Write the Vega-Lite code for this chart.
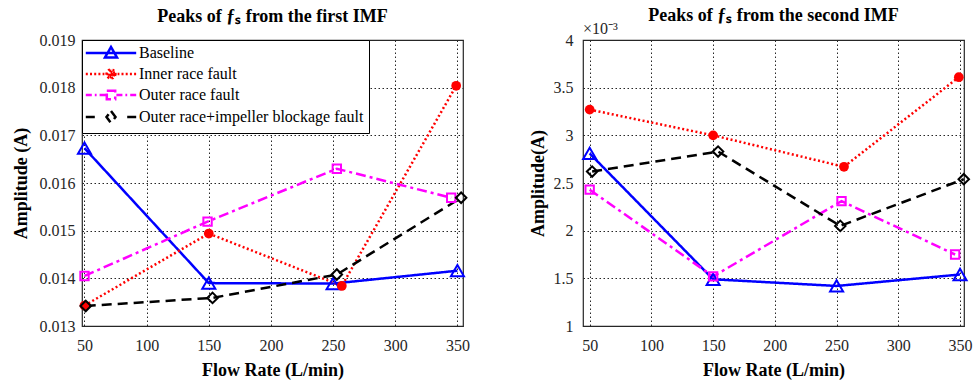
{
  "$schema": "https://vega.github.io/schema/vega-lite/v6.json",
  "padding": {"left": 11, "top": 6, "right": 1, "bottom": 0},
  "background": "white",
  "datasets": {
    "amps": [
      {"imf": 1, "series": "Baseline", "flow": 50, "amp": 0.01673},
      {"imf": 1, "series": "Baseline", "flow": 150, "amp": 0.01390},
      {"imf": 1, "series": "Baseline", "flow": 250, "amp": 0.01389},
      {"imf": 1, "series": "Baseline", "flow": 350, "amp": 0.01416},
      {"imf": 1, "series": "Inner race fault", "flow": 50, "amp": 0.01343},
      {"imf": 1, "series": "Inner race fault", "flow": 150, "amp": 0.01494},
      {"imf": 1, "series": "Inner race fault", "flow": 257, "amp": 0.01384},
      {"imf": 1, "series": "Inner race fault", "flow": 349, "amp": 0.01804},
      {"imf": 1, "series": "Outer race fault", "flow": 50, "amp": 0.01405},
      {"imf": 1, "series": "Outer race fault", "flow": 149, "amp": 0.01519},
      {"imf": 1, "series": "Outer race fault", "flow": 253, "amp": 0.01630},
      {"imf": 1, "series": "Outer race fault", "flow": 345, "amp": 0.01569},
      {"imf": 1, "series": "Outer race+impeller blockage fault", "flow": 51, "amp": 0.01342},
      {"imf": 1, "series": "Outer race+impeller blockage fault", "flow": 153, "amp": 0.01359},
      {"imf": 1, "series": "Outer race+impeller blockage fault", "flow": 253, "amp": 0.01408},
      {"imf": 1, "series": "Outer race+impeller blockage fault", "flow": 353, "amp": 0.01569},
      {"imf": 2, "series": "Baseline", "flow": 50, "amp": 0.00281},
      {"imf": 2, "series": "Baseline", "flow": 150, "amp": 0.00149},
      {"imf": 2, "series": "Baseline", "flow": 250, "amp": 0.00142},
      {"imf": 2, "series": "Baseline", "flow": 350, "amp": 0.00154},
      {"imf": 2, "series": "Inner race fault", "flow": 50, "amp": 0.00327},
      {"imf": 2, "series": "Inner race fault", "flow": 150, "amp": 0.00300},
      {"imf": 2, "series": "Inner race fault", "flow": 256, "amp": 0.00267},
      {"imf": 2, "series": "Inner race fault", "flow": 349, "amp": 0.00361},
      {"imf": 2, "series": "Outer race fault", "flow": 50, "amp": 0.00243},
      {"imf": 2, "series": "Outer race fault", "flow": 150, "amp": 0.00152},
      {"imf": 2, "series": "Outer race fault", "flow": 254, "amp": 0.00231},
      {"imf": 2, "series": "Outer race fault", "flow": 346, "amp": 0.00175},
      {"imf": 2, "series": "Outer race+impeller blockage fault", "flow": 52, "amp": 0.00262},
      {"imf": 2, "series": "Outer race+impeller blockage fault", "flow": 154, "amp": 0.00283},
      {"imf": 2, "series": "Outer race+impeller blockage fault", "flow": 253, "amp": 0.00205},
      {"imf": 2, "series": "Outer race+impeller blockage fault", "flow": 353, "amp": 0.00254}
    ],
    "note": [{"label": "×10⁻³"}]
  },
  "spacing": 54,
  "resolve": {
    "scale": {"color": "independent", "stroke": "independent", "strokeDash": "independent", "shape": "independent"},
    "legend": {"color": "independent", "stroke": "independent", "strokeDash": "independent", "shape": "independent"}
  },
  "hconcat": [
    {
      "width": 381,
      "height": 286,
      "title": {"text": "Peaks of ƒₛ from the first IMF", "offset": 6},
      "layer": [
        {
          "data": {"name": "amps"},
          "transform": [{"filter": "datum.imf == 1"}],
          "mark": {"type": "point", "strokeWidth": 2.5, "opacity": 0},
          "encoding": {
            "x": {"field": "flow", "type": "quantitative", "scale": {"domain": [48, 354.5], "nice": false, "zero": false}, "axis": {"values": [50, 100, 150, 200, 250, 300, 350], "title": "Flow Rate (L/min)", "labelPadding": 11, "titlePadding": 8}},
            "y": {"field": "amp", "type": "quantitative", "scale": {"domain": [0.013, 0.019], "nice": false, "zero": false}, "axis": {"values": [0.013, 0.014, 0.015, 0.016, 0.017, 0.018, 0.019], "format": ".3f", "title": "Amplitude (A)", "labelPadding": 7, "titlePadding": 9}},
            "color": {
              "field": "series", "type": "nominal",
              "scale": {"domain": ["Baseline", "Inner race fault", "Outer race fault", "Outer race+impeller blockage fault"], "range": ["#0000ff", "#ff0000", "#ff00ff", "#000000"]},
              "legend": {
                "title": null, "orient": "top-left", "offset": 0, "padding": 5,
                "strokeColor": "#000000", "fillColor": "white",
                "labelFont": "'Liberation Serif', 'Times New Roman', serif", "labelFontSize": 16, "labelColor": "#000000", "labelLimit": 400,
                "symbolSize": 144, "symbolStrokeWidth": 2.5, "symbolOpacity": 1, "symbolOffset": 16, "labelOffset": 20, "rowPadding": 1
              }
            },
            "shape": {
              "field": "series", "type": "nominal",
              "scale": {
                "domain": ["Baseline", "Inner race fault", "Outer race fault", "Outer race+impeller blockage fault"],
                "range": [
                  "M-4.2,0H4.2M0,-1L1,0.75L-1,0.75Z",
                  "M-4.2,0h0.35M-3.5,0h0.35M-2.8,0h0.35M-2.1,0h0.35M-1.4,0h0.3M1.1,0h0.3M1.75,0h0.35M2.45,0h0.35M3.15,0h0.35M3.85,0h0.35M0.75,0L0.65,0.375L0.375,0.65L0,0.75L-0.375,0.65L-0.65,0.375L-0.75,0L-0.65,-0.375L-0.375,-0.65L0,-0.75L0.375,-0.65L0.65,-0.375ZM0.55,0L0.476,0.275L0.275,0.476L0,0.55L-0.275,0.476L-0.476,0.275L-0.55,0L-0.476,-0.275L-0.275,-0.476L0,-0.55L0.275,-0.476L0.476,-0.275ZM0.35,0L0.247,0.247L0,0.35L-0.247,0.247L-0.35,0L-0.247,-0.247L0,-0.35L0.247,-0.247ZM0.15,0L0,0.15L-0.15,0L0,-0.15Z",
                  "M-4.2,0H-3.2M-2.7,0H-2.4M-1.9,0H-0.9M0.9,0H1.9M2.4,0H2.7M3.2,0H4.2M-0.7,-0.7H0.7V0.7H-0.7Z",
                  "M-4.2,0H-2.7M2.7,0H4.2M0,-1L0.75,0L0,1L-0.75,0Z"
                ]
              },
              "legend": {
                "title": null, "orient": "top-left", "offset": 0, "padding": 5,
                "strokeColor": "#000000", "fillColor": "white",
                "labelFont": "'Liberation Serif', 'Times New Roman', serif", "labelFontSize": 16, "labelColor": "#000000", "labelLimit": 400,
                "symbolSize": 144, "symbolStrokeWidth": 2.5, "symbolOpacity": 1, "symbolOffset": 16, "labelOffset": 20, "rowPadding": 1
              }
            }
          }
        },
        {
          "data": {"name": "amps"},
          "transform": [{"filter": "datum.imf == 1"}],
          "mark": {"type": "line", "strokeWidth": 2.5, "clip": true},
          "encoding": {
            "x": {"field": "flow", "type": "quantitative"},
            "y": {"field": "amp", "type": "quantitative"},
            "stroke": {
              "field": "series", "type": "nominal",
              "scale": {"domain": ["Baseline", "Inner race fault", "Outer race fault", "Outer race+impeller blockage fault"], "range": ["#0000ff", "#ff0000", "#ff00ff", "#000000"]},
              "legend": null
            },
            "strokeDash": {
              "field": "series", "type": "nominal",
              "scale": {"domain": ["Baseline", "Inner race fault", "Outer race fault", "Outer race+impeller blockage fault"], "range": [[1, 0], [2, 2.5], [10, 4, 3, 4], [10, 6]]},
              "legend": null
            }
          }
        },
        {
          "data": {"name": "amps"},
          "transform": [{"filter": "datum.imf == 1 && datum.series == 'Baseline'"}],
          "mark": {"type": "point", "shape": "triangle-up", "size": 170, "strokeWidth": 2, "color": "#0000ff", "opacity": 1},
          "encoding": {"x": {"field": "flow", "type": "quantitative"}, "y": {"field": "amp", "type": "quantitative"}}
        },
        {
          "data": {"name": "amps"},
          "transform": [{"filter": "datum.imf == 1 && datum.series == 'Inner race fault'"}],
          "mark": {"type": "point", "shape": "circle", "size": 95, "strokeWidth": 2, "color": "#ff0000", "filled": true, "opacity": 1},
          "encoding": {"x": {"field": "flow", "type": "quantitative"}, "y": {"field": "amp", "type": "quantitative"}}
        },
        {
          "data": {"name": "amps"},
          "transform": [{"filter": "datum.imf == 1 && datum.series == 'Outer race fault'"}],
          "mark": {"type": "point", "shape": "square", "size": 70, "strokeWidth": 2, "color": "#ff00ff", "opacity": 1},
          "encoding": {"x": {"field": "flow", "type": "quantitative"}, "y": {"field": "amp", "type": "quantitative"}}
        },
        {
          "data": {"name": "amps"},
          "transform": [{"filter": "datum.imf == 1 && datum.series == 'Outer race+impeller blockage fault'"}],
          "mark": {"type": "point", "shape": "diamond", "size": 110, "strokeWidth": 2, "color": "#000000", "opacity": 1},
          "encoding": {"x": {"field": "flow", "type": "quantitative"}, "y": {"field": "amp", "type": "quantitative"}}
        }
      ]
    },
    {
      "width": 381,
      "height": 286,
      "title": {"text": "Peaks of ƒₛ from the second IMF", "offset": -4},
      "layer": [
        {
          "data": {"name": "amps"},
          "transform": [{"filter": "datum.imf == 2"}],
          "mark": {"type": "line", "strokeWidth": 2.5, "clip": true},
          "encoding": {
            "x": {"field": "flow", "type": "quantitative", "scale": {"domain": [44.6, 353.2], "nice": false, "zero": false}, "axis": {"values": [50, 100, 150, 200, 250, 300, 350], "title": "Flow Rate (L/min)", "labelPadding": 11, "titlePadding": 8}},
            "y": {"field": "amp", "type": "quantitative", "scale": {"domain": [0.001, 0.004], "nice": false, "zero": false}, "axis": {"values": [0.001, 0.0015, 0.002, 0.0025, 0.003, 0.0035, 0.004], "labelExpr": "format(datum.value * 1000, '~g')", "title": "Amplitude(A)", "labelPadding": 10, "titlePadding": 6}},
            "stroke": {
              "field": "series", "type": "nominal",
              "scale": {"domain": ["Baseline", "Inner race fault", "Outer race fault", "Outer race+impeller blockage fault"], "range": ["#0000ff", "#ff0000", "#ff00ff", "#000000"]},
              "legend": null
            },
            "strokeDash": {
              "field": "series", "type": "nominal",
              "scale": {"domain": ["Baseline", "Inner race fault", "Outer race fault", "Outer race+impeller blockage fault"], "range": [[1, 0], [2, 2.5], [10, 4, 3, 4], [10, 6]]},
              "legend": null
            }
          }
        },
        {
          "data": {"name": "amps"},
          "transform": [{"filter": "datum.imf == 2 && datum.series == 'Baseline'"}],
          "mark": {"type": "point", "shape": "triangle-up", "size": 170, "strokeWidth": 2, "color": "#0000ff", "opacity": 1},
          "encoding": {"x": {"field": "flow", "type": "quantitative"}, "y": {"field": "amp", "type": "quantitative"}}
        },
        {
          "data": {"name": "amps"},
          "transform": [{"filter": "datum.imf == 2 && datum.series == 'Inner race fault'"}],
          "mark": {"type": "point", "shape": "circle", "size": 95, "strokeWidth": 2, "color": "#ff0000", "filled": true, "opacity": 1},
          "encoding": {"x": {"field": "flow", "type": "quantitative"}, "y": {"field": "amp", "type": "quantitative"}}
        },
        {
          "data": {"name": "amps"},
          "transform": [{"filter": "datum.imf == 2 && datum.series == 'Outer race fault'"}],
          "mark": {"type": "point", "shape": "square", "size": 70, "strokeWidth": 2, "color": "#ff00ff", "opacity": 1},
          "encoding": {"x": {"field": "flow", "type": "quantitative"}, "y": {"field": "amp", "type": "quantitative"}}
        },
        {
          "data": {"name": "amps"},
          "transform": [{"filter": "datum.imf == 2 && datum.series == 'Outer race+impeller blockage fault'"}],
          "mark": {"type": "point", "shape": "diamond", "size": 110, "strokeWidth": 2, "color": "#000000", "opacity": 1},
          "encoding": {"x": {"field": "flow", "type": "quantitative"}, "y": {"field": "amp", "type": "quantitative"}}
        },
        {
          "data": {"name": "note"},
          "mark": {"type": "text", "align": "left", "baseline": "alphabetic", "dy": -6, "font": "'Liberation Serif', 'Times New Roman', serif", "fontSize": 16, "color": "#262626"},
          "encoding": {
            "x": {"datum": 44.6},
            "y": {"datum": 0.004},
            "text": {"field": "label"}
          }
        }
      ]
    }
  ],
  "config": {
    "font": "'Liberation Serif', 'Times New Roman', serif",
    "view": {"stroke": "#262626", "strokeWidth": 1.2},
    "axis": {
      "labelFont": "'Liberation Serif', 'Times New Roman', serif", "labelFontSize": 16, "labelColor": "#262626",
      "titleFont": "'Liberation Serif', 'Times New Roman', serif", "titleFontSize": 18, "titleFontWeight": "bold", "titleColor": "#000000",
      "grid": true, "gridColor": "#262626", "gridDash": [1.5, 2.5], "gridOpacity": 1, "gridWidth": 1,
      "domain": false, "ticks": false, "labelFlush": false, "labelOverlap": false
    },
    "legend": {"labelFont": "'Liberation Serif', 'Times New Roman', serif"},
    "title": {"font": "'Liberation Serif', 'Times New Roman', serif", "fontSize": 18, "fontWeight": "bold", "color": "#000000"}
  }
}
